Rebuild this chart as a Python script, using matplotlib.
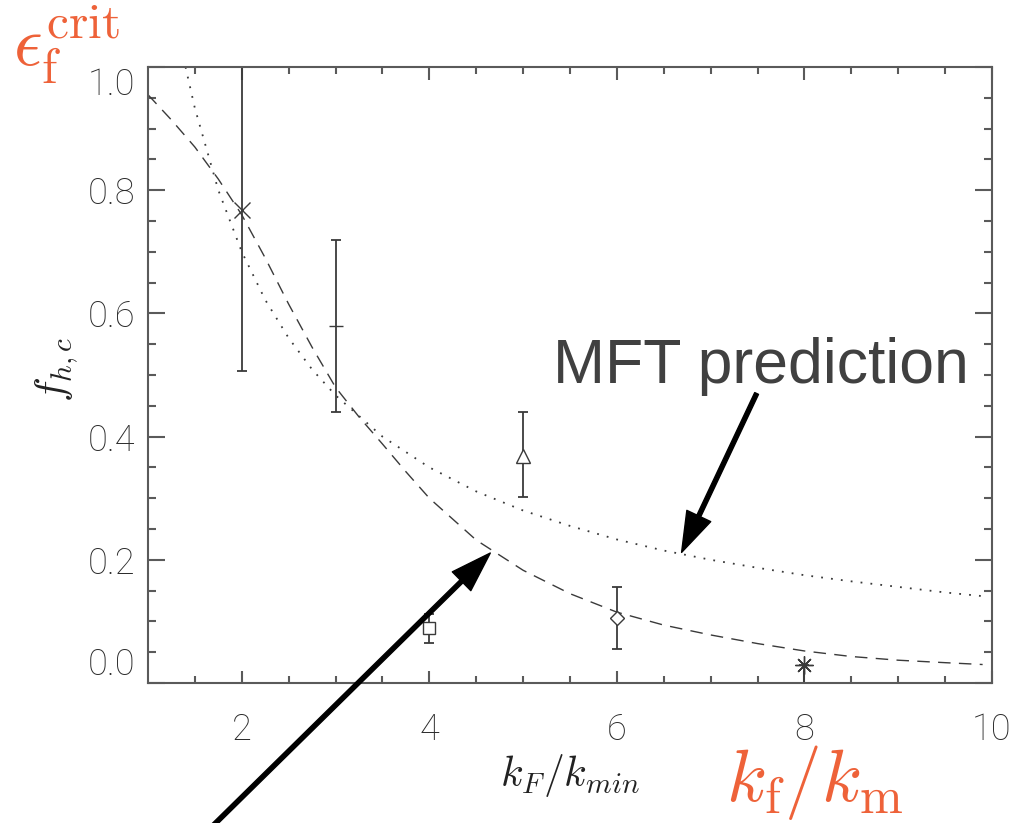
import matplotlib
matplotlib.use("Agg")
import matplotlib.pyplot as plt
import numpy as np

plt.rcParams["mathtext.fontset"] = "cm"

# Simulation points with error bars
k_ratio = [2, 3, 4, 5, 6, 8]
f_crit = [0.768, 0.580, 0.089, 0.368, 0.105, 0.029]
f_low = [0.507, 0.440, 0.065, 0.302, 0.055, -0.01]
f_high = [1.05, 0.719, 0.112, 0.440, 0.156, 0.029]
markers = ["x", "_", "s", "^", "D", (8, 2, 0)]
msizes = [11, 10, 9, 10, 7, 13]

# Dashed fit curve
fit_x = [1.0, 1.25, 1.5, 1.75, 2.0, 2.25, 2.5, 2.75, 3.0, 3.25, 3.5, 3.75, 4.0,
         4.5, 5.0, 5.5, 6.0, 6.5, 7.0, 7.5, 8.0, 8.5, 9.0, 9.5, 9.9]
fit_y = [0.955, 0.914, 0.870, 0.818, 0.760, 0.690, 0.615, 0.545, 0.48, 0.432,
         0.388, 0.343, 0.30, 0.232, 0.183, 0.145, 0.115, 0.094, 0.078, 0.064,
         0.052, 0.043, 0.037, 0.033, 0.030]

# Dotted MFT prediction curve
mft_x = [1.4, 1.5, 1.75, 2.0, 2.25, 2.5, 2.75, 3.0, 3.5, 4.0, 4.5, 5.0, 5.5,
         6.0, 6.5, 7.0, 7.5, 8.0, 8.5, 9.0, 9.5, 9.9]
mft_y = [1.0, 0.933, 0.80, 0.70, 0.622, 0.56, 0.509, 0.467, 0.40, 0.35, 0.311,
         0.28, 0.255, 0.233, 0.215, 0.20, 0.187, 0.175, 0.165, 0.156, 0.147, 0.141]

W, H = 1024, 823
fig = plt.figure(figsize=(W / 100, H / 100), dpi=100, facecolor="white")
ax = fig.add_axes([148 / W, 1 - 683 / H, (992 - 148) / W, (683 - 67) / H])

line_col = "#3a3a3a"
ax.plot(fit_x, fit_y, color=line_col, lw=1.0, dashes=(9, 6))
ax.plot(mft_x, mft_y, color=line_col, lw=1.3, linestyle=(0, (1, 4.5)))

for xi, yi, lo, hi, m, ms in zip(k_ratio, f_crit, f_low, f_high, markers, msizes):
    ax.errorbar([xi], [yi], yerr=[[yi - lo], [hi - yi]], fmt="none",
                ecolor=line_col, elinewidth=1.3, capsize=3.8, capthick=1.3)
    ax.plot([xi], [yi], marker=m, ms=ms, mfc="white" if m in ("s", "^", "D") else line_col,
            mec=line_col, mew=1.0, linestyle="none")

ax.set_xlim(1, 10)
ax.set_ylim(0, 1.0)
ax.set_xticks([2, 4, 6, 8, 10])
ax.set_xticks(np.arange(1.5, 10, 0.5), minor=True)
ax.set_yticks([0.0, 0.2, 0.4, 0.6, 0.8, 1.0])
ax.set_yticks(np.arange(0.05, 1.0, 0.05), minor=True)
ax.set_xticklabels(["2", "4", "6", "8", "10"])
ax.set_yticklabels(["0.0", "0.2", "0.4", "0.6", "0.8", "1.0"])

spine_col = "#5a5a5a"
for s in ax.spines.values():
    s.set_color(spine_col)
    s.set_linewidth(1.5)
ax.tick_params(which="both", direction="in", top=True, right=True, color=spine_col, width=1.5)
ax.tick_params(axis="x", which="major", length=9, pad=21)
ax.tick_params(axis="x", which="minor", length=5)
ax.tick_params(axis="y", which="major", length=12, pad=9)
ax.tick_params(axis="y", which="minor", length=6)
for lab in ax.get_xticklabels() + ax.get_yticklabels():
    lab.set_family(["Roboto", "Lato", "DejaVu Sans"])
    lab.set_weight("light")
    lab.set_fontsize(26)
    lab.set_color("#2a2a2a")
ylabs = ax.get_yticklabels()
ylabs[0].set_va("bottom")
ylabs[-1].set_va("top")

# Axis titles
fig.text(570 / W, 1 - 786 / H, r"$k_F/k_{min}$", ha="center", va="baseline",
         fontsize=30, color="#222222")
fig.text(57 / W, 1 - 370 / H, r"$f_{h,c}$", ha="center", va="center",
         rotation=90, fontsize=30, color="#222222")

# Orange overlay labels
orange = "#EE6239"
fig.text(13 / W, 1 - 3 / H, r"$\epsilon_\mathrm{f}^\mathrm{crit}$", ha="left", va="top",
         fontsize=51, color=orange)
fig.text(815 / W, 1 - 801 / H, r"$k_\mathrm{f}/k_\mathrm{m}$", ha="center", va="baseline",
         fontsize=53, color=orange)

# MFT annotation
fig.text(553 / W, 1 - 383 / H, "MFT prediction", ha="left", va="baseline",
         family="Liberation Sans", fontsize=45, color="#404040")
arrow = dict(facecolor="black", edgecolor="black", width=3, headwidth=19,
             headlength=29, shrink=0)
ax.annotate("", xy=(6.69, 0.212), xytext=(7.49, 0.470), arrowprops=arrow)
ax.annotate("", xy=(4.65, 0.211), xytext=(1.67, -0.235), arrowprops=arrow,
            annotation_clip=False)

fig.savefig("out.png", dpi=100, facecolor="white")
